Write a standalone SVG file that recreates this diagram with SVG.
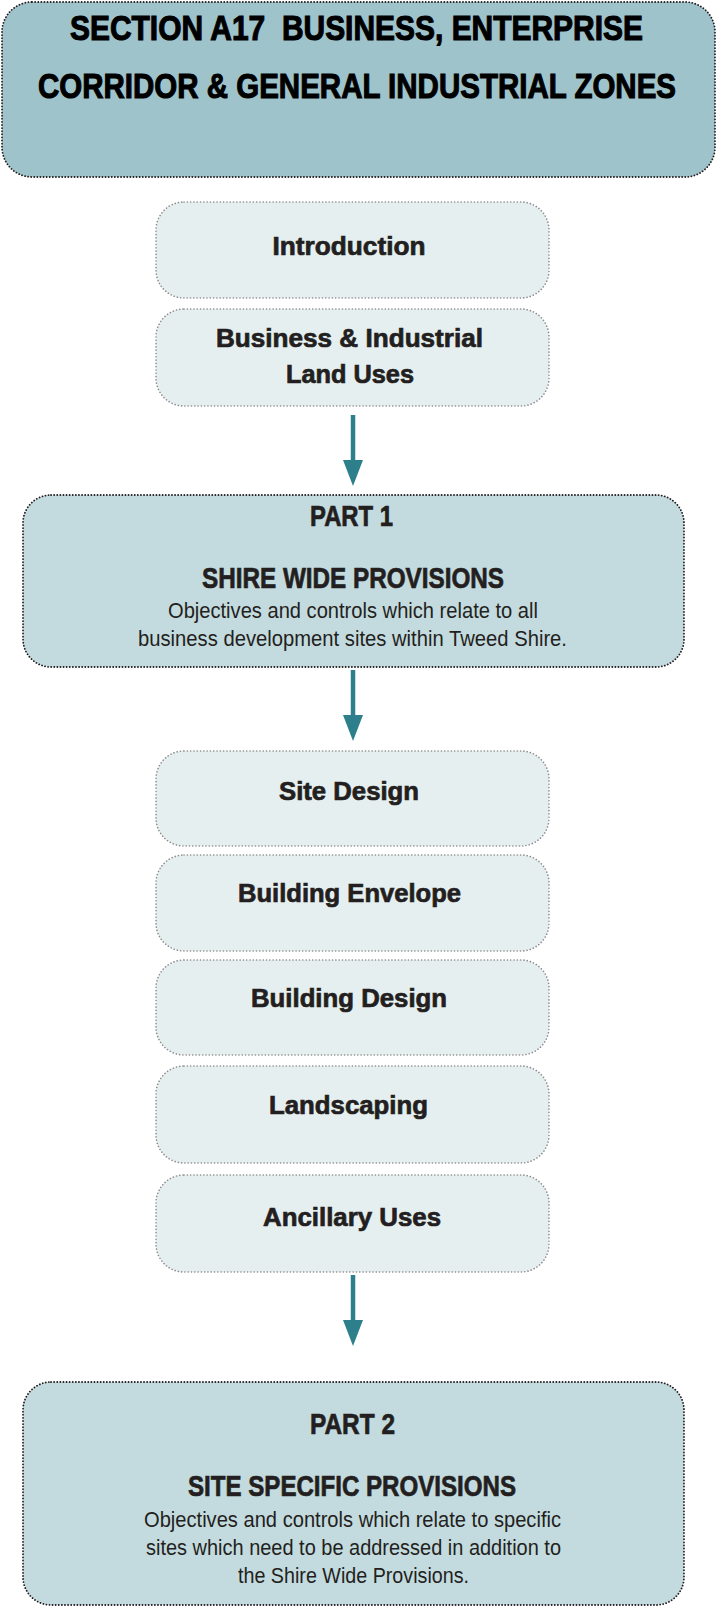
<svg xmlns="http://www.w3.org/2000/svg" width="717" height="1607" viewBox="0 0 717 1607">
<style>
.big{fill:#c3dbdf;stroke:#231f20;stroke-width:1.8;stroke-dasharray:0.1 3;stroke-linecap:round}
.title{fill:#9fc3cb;stroke:#231f20;stroke-width:1.8;stroke-dasharray:0.1 3;stroke-linecap:round}
.small{fill:#e6eff0;stroke:#8c8c8c;stroke-width:1.6;stroke-dasharray:0.1 3.2;stroke-linecap:round}
.h{font-family:"Liberation Sans",Arial,sans-serif;font-weight:bold;fill:#231f20;stroke:#231f20;stroke-width:0.7;text-anchor:middle}
.t{font-family:"Liberation Sans",Arial,sans-serif;font-weight:bold;fill:#000;stroke:#000;stroke-width:0.8;text-anchor:middle;font-size:25.7px}
.b{font-family:"Liberation Sans",Arial,sans-serif;fill:#231f20;text-anchor:middle;font-size:22px}
.arr{stroke:#2d808b;stroke-width:4.5;fill:none}
.head{fill:#2d808b}
</style>
<g id="title">
<rect class="title" x="2" y="2" width="713" height="175" rx="30"/>
<g transform="scale(1,1.4)">
<text class="t" x="356.5" y="28.57" textLength="573" lengthAdjust="spacingAndGlyphs" xml:space="preserve">SECTION A17  BUSINESS, ENTERPRISE</text>
<text class="t" x="357" y="70" textLength="638" lengthAdjust="spacingAndGlyphs">CORRIDOR &amp; GENERAL INDUSTRIAL ZONES</text>
</g>
</g>
<g id="introduction">
<rect class="small" x="156" y="202" width="393" height="96" rx="28"/>
<text class="h" x="349" y="255" font-size="26" textLength="153" lengthAdjust="spacingAndGlyphs">Introduction</text>
</g>
<g id="business-land-uses">
<rect class="small" x="156" y="309" width="393" height="97" rx="28"/>
<text class="h" x="349.5" y="347" font-size="26" textLength="267" lengthAdjust="spacingAndGlyphs">Business &amp; Industrial</text>
<text class="h" x="350" y="383" font-size="26" textLength="128" lengthAdjust="spacingAndGlyphs">Land Uses</text>
</g>
<g id="part1">
<rect class="big" x="23" y="495" width="661" height="172" rx="28"/>
<text class="h" x="351.5" y="526" font-size="29" textLength="83" lengthAdjust="spacingAndGlyphs">PART 1</text>
<text class="h" x="353" y="588" font-size="29" textLength="302" lengthAdjust="spacingAndGlyphs">SHIRE WIDE PROVISIONS</text>
<text class="b" x="353" y="618" textLength="370" lengthAdjust="spacingAndGlyphs">Objectives and controls which relate to all</text>
<text class="b" x="352.5" y="646" textLength="429" lengthAdjust="spacingAndGlyphs">business development sites within Tweed Shire.</text>
</g>
<g id="site-design">
<rect class="small" x="156" y="751" width="393" height="95" rx="28"/>
<text class="h" x="349" y="800" font-size="26" textLength="140" lengthAdjust="spacingAndGlyphs">Site Design</text>
</g>
<g id="building-envelope">
<rect class="small" x="156" y="855" width="393" height="96" rx="28"/>
<text class="h" x="349.5" y="902" font-size="26" textLength="223" lengthAdjust="spacingAndGlyphs">Building Envelope</text>
</g>
<g id="building-design">
<rect class="small" x="156" y="960" width="393" height="95" rx="28"/>
<text class="h" x="349" y="1007" font-size="26" textLength="196" lengthAdjust="spacingAndGlyphs">Building Design</text>
</g>
<g id="landscaping">
<rect class="small" x="156" y="1066" width="393" height="97" rx="28"/>
<text class="h" x="348.5" y="1114" font-size="26" textLength="159" lengthAdjust="spacingAndGlyphs">Landscaping</text>
</g>
<g id="ancillary-uses">
<rect class="small" x="156" y="1175" width="393" height="97" rx="28"/>
<text class="h" x="352" y="1226" font-size="26" textLength="178" lengthAdjust="spacingAndGlyphs">Ancillary Uses</text>
</g>
<g id="part2">
<rect class="big" x="23" y="1382" width="661" height="223" rx="28"/>
<text class="h" x="352.5" y="1434" font-size="29" textLength="85" lengthAdjust="spacingAndGlyphs">PART 2</text>
<text class="h" x="352" y="1496" font-size="29" textLength="328" lengthAdjust="spacingAndGlyphs">SITE SPECIFIC PROVISIONS</text>
<text class="b" x="352.5" y="1527" textLength="417" lengthAdjust="spacingAndGlyphs">Objectives and controls which relate to specific</text>
<text class="b" x="353.5" y="1555" textLength="415" lengthAdjust="spacingAndGlyphs">sites which need to be addressed in addition to</text>
<text class="b" x="353.5" y="1583" textLength="231" lengthAdjust="spacingAndGlyphs">the Shire Wide Provisions.</text>
</g>
<g id="connectors">
<line class="arr" x1="353" y1="415" x2="353" y2="465"/>
<polygon class="head" points="343,460 363,460 353,486"/>
<line class="arr" x1="353" y1="670" x2="353" y2="720"/>
<polygon class="head" points="343,715 363,715 353,741"/>
<line class="arr" x1="353" y1="1275" x2="353" y2="1325"/>
<polygon class="head" points="343,1320 363,1320 353,1346"/>
</g>
</svg>
